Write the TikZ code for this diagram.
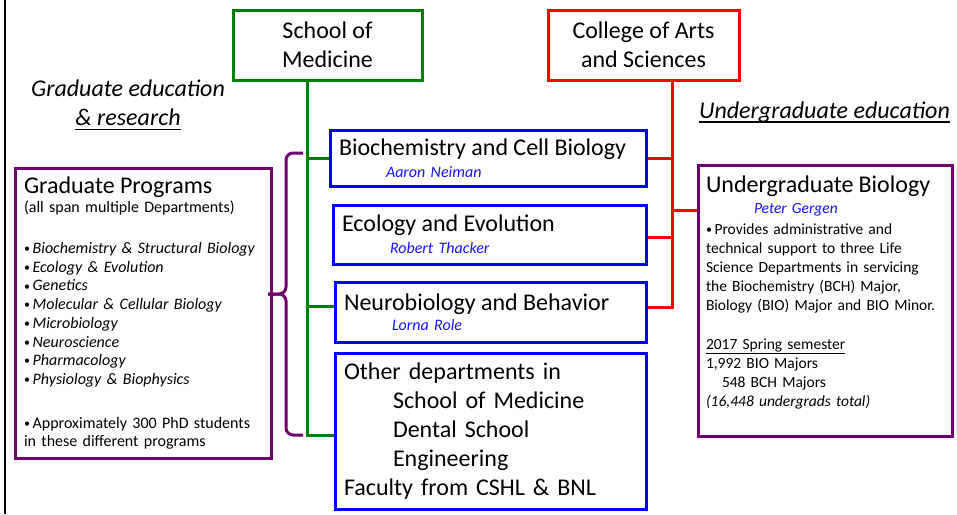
\documentclass[tikz,border=0pt]{standalone}
\usepackage{fontspec}
\setmainfont{Carlito}
\usepackage{xcolor}
\usepackage{tikz}
\usetikzlibrary{positioning}

\definecolor{somgreen}{RGB}{0,128,0}
\definecolor{casred}{RGB}{255,0,0}
\definecolor{deptblue}{RGB}{0,0,255}
\definecolor{nameblue}{RGB}{20,20,255}
\definecolor{progpurple}{RGB}{110,0,110}

\newcommand{\ulbar}[2][1.8pt]{\leavevmode\setbox0=\hbox{#2}\rlap{\rule[-4.5pt]{\wd0}{#1}}\box0}
\newcommand{\dotitem}{\raisebox{0.8pt}{\fontsize{12}{12}\selectfont\textbullet}\,}

\begin{document}
\begin{tikzpicture}[
    x=1pt, y=-1pt,
    unit/.style={rectangle, draw, line width=3pt, align=center, inner sep=0pt, font=\fontsize{24}{29}\selectfont},
    dept/.style={rectangle, draw=deptblue, line width=3pt, align=left, inner xsep=9pt, inner ysep=0pt, font=\fontsize{16}{19.2}\selectfont},
    prog/.style={rectangle, draw=progpurple, line width=3pt, align=left, inner xsep=9pt, inner ysep=0pt},
    edutitle/.style={inner sep=0pt, align=center, font=\fontsize{24}{29}\selectfont\itshape},
    tree/.style={line width=3pt}
]
\useasboundingbox (0,0) rectangle (957,514);
\draw[line width=2.2pt] (5,0) -- (5,514);

% Schools
\node[unit, draw=somgreen, minimum width=189pt, minimum height=70pt] (som) at (327.5,45) {School of\\Medicine};
\node[unit, draw=casred, minimum width=191pt, minimum height=70pt] (cas) at (643.5,45) {College of Arts\\and Sciences};

% Departments
\node[dept, text width=298pt, minimum height=56pt] (bcb) at (488,158)
    {{\fontsize{24}{29}\selectfont Biochemistry and Cell Biology}\\[2.5pt]\hspace*{47pt}{\color{nameblue}\itshape Aaron Neiman}};
\node[dept, text width=295pt, minimum height=59pt] (eco) at (489.5,234.5)
    {{\fontsize{24}{29}\selectfont Ecology and Evolution}\\[2.5pt]\hspace*{48pt}{\color{nameblue}\itshape Robert Thacker}};
\node[dept, text width=293pt, minimum height=60pt] (neu) at (490.5,312)
    {{\fontsize{24}{29}\selectfont Neurobiology and Behavior}\\[1pt]\hspace*{48pt}{\color{nameblue}\itshape Lorna Role}};
\node[dept, text width=293pt, minimum height=156pt, font=\fontsize{24}{29}\selectfont] (oth) at (490.5,431)
    {Other departments in\\\hspace*{49pt}School of Medicine\\\hspace*{49pt}Dental School\\\hspace*{49pt}Engineering\\Faculty from CSHL \& BNL};

% Programs
\node[prog, text width=238pt, minimum height=290pt, font=\fontsize{16}{18.7}\selectfont] (gp) at (143,313)
    {{\fontsize{24}{29}\selectfont Graduate Programs}\\[1pt]
     (all span multiple Departments)\\[22pt]
     \dotitem\textit{Biochemistry \& Structural Biology}\\
     \dotitem\textit{Ecology \& Evolution}\\
     \dotitem\textit{Genetics}\\
     \dotitem\textit{Molecular \& Cellular Biology}\\
     \dotitem\textit{Microbiology}\\
     \dotitem\textit{Neuroscience}\\
     \dotitem\textit{Pharmacology}\\
     \dotitem\textit{Physiology \& Biophysics}\\[25pt]
     \dotitem Approximately 300 PhD students\\
     in these different programs};
\node[prog, text width=238pt, inner xsep=8pt, minimum height=271pt, font=\fontsize{15.5}{19}\selectfont] (ugb) at (825,300.5)
    {{\fontsize{24}{29}\selectfont Undergraduate Biology}\\[2pt]
     \hspace*{48pt}{\color{nameblue}\itshape Peter Gergen}\\[2pt]
     \dotitem Provides administrative and\\
     technical support to three Life\\
     Science Departments in servicing\\
     the Biochemistry (BCH) Major,\\
     Biology (BIO) Major and BIO Minor.\\[20pt]
     \ulbar[1.2pt]{2017 Spring semester}\\
     1,992 BIO Majors\\
     \hspace*{16pt}548 BCH Majors\\
     \textit{(16,448 undergrads total)}\\
     \mbox{}};

% Headings
\node[edutitle, anchor=north] (gradedu) at (128,80) {Graduate education\\\ulbar{\& research}};
\node[edutitle, anchor=base] (ugedu) at (824.5,118) {\ulbar{Undergraduate education}};

% School of Medicine tree
\coordinate (gtop) at (307,80);
\coordinate (gneu) at ([yshift=6pt]neu.west);
\coordinate (goth) at ([yshift=-4pt]oth.west);
\draw[tree, somgreen] (gtop) |- (goth);
\draw[tree, somgreen] (gtop |- bcb.west) -- (bcb.west);
\draw[tree, somgreen] (gtop |- gneu) -- (gneu);

% Arts and Sciences tree
\coordinate (rtop) at (672,80);
\coordinate (rjoin) at (672,210);
\coordinate (rneu) at ([yshift=5pt]neu.east);
\coordinate (reco) at ([yshift=-2.5pt]eco.east);
\draw[tree, casred] (rtop) |- (rneu);
\draw[tree, casred] (rtop |- bcb.east) -- (bcb.east);
\draw[tree, casred] (rtop |- reco) -- (reco);
\draw[tree, casred] (rjoin) -- (rjoin -| ugb.west);

% Programs brace
\coordinate (brtop) at (303,153);
\coordinate (brtip) at (268,294);
\coordinate (brbot) at (303,435);
\draw[tree, progpurple, rounded corners=7pt] (brtop) -| ([xshift=18pt]brtip) -- (brtip);
\draw[tree, progpurple, rounded corners=7pt] (brtip) -- ([xshift=18pt]brtip) |- (brbot);

\end{tikzpicture}
\end{document}
